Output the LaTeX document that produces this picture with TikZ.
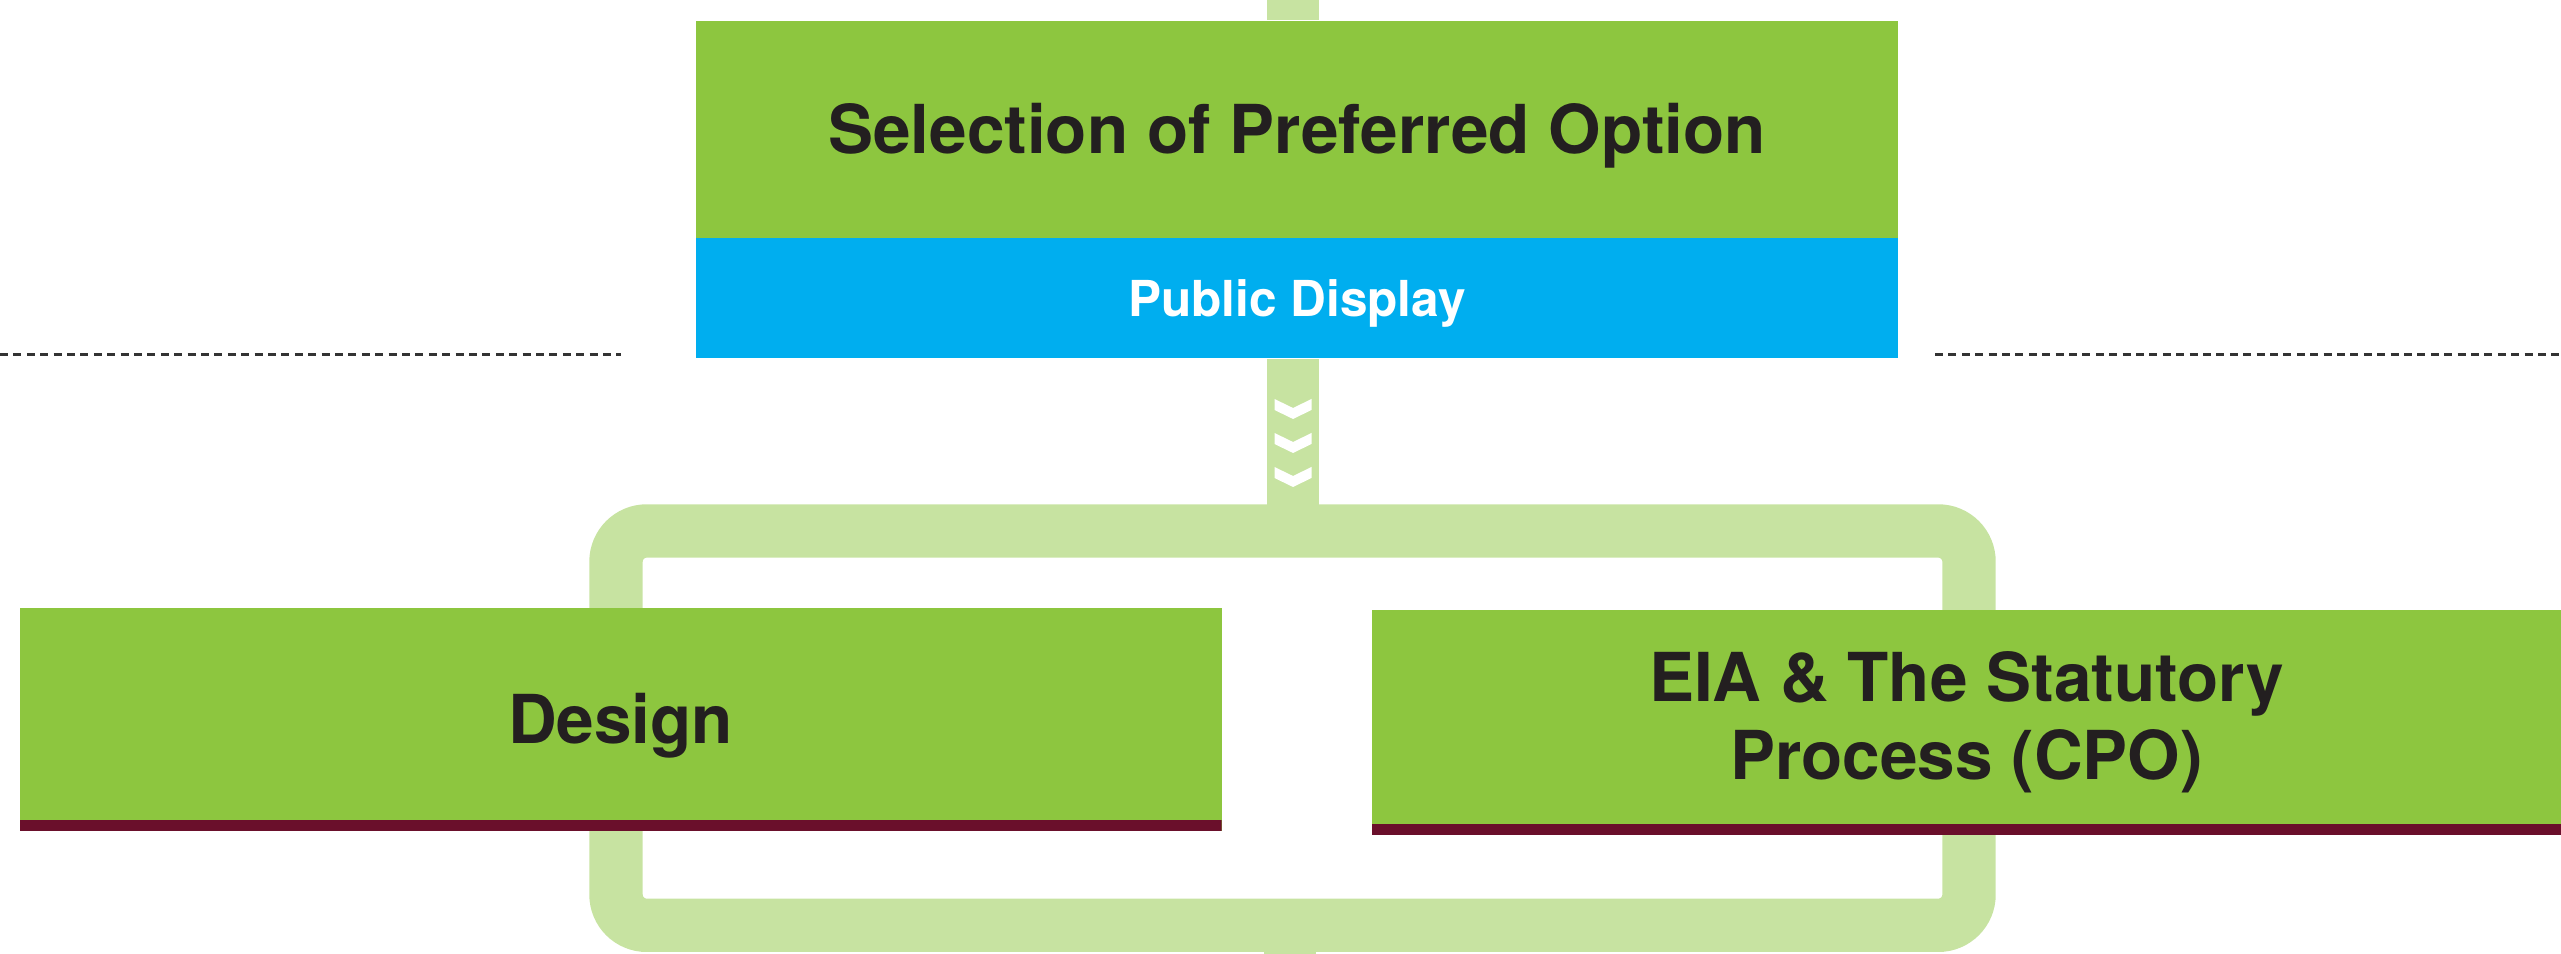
\documentclass[tikz,border=0pt]{standalone}
\usepackage{fontspec}
\setmainfont{TeX Gyre Heros}
\usepackage{tikz}
\usetikzlibrary{calc}
\definecolor{leaf}{HTML}{8DC63F}
\definecolor{pale}{HTML}{C7E3A1}
\definecolor{sky}{HTML}{00AEEF}
\definecolor{wine}{HTML}{6A0F2B}
\definecolor{ink}{HTML}{231F20}
\tikzset{gr/.style={inner sep=0pt, fill=leaf, text=ink, font=\fontsize{19.2}{22}\selectfont\bfseries},
        bl/.style={inner sep=0pt, fill=sky, text=white, font=\fontsize{14.1}{17}\selectfont\bfseries, text height=10.1pt, text depth=0pt},
        wb/.style={path picture={\fill[wine] (path picture bounding box.south west) rectangle ([yshift=0.11cm]path picture bounding box.south east);}},
        conn/.style={draw=pale, line width=0.52cm},
        fr/.style={draw=pale, line width=0.534cm, rounded corners=0.307cm},
        dl/.style={draw=black!80, line width=0.03cm, dash pattern=on 0.08cm off 0.054cm}}

\begin{document}
\begin{tikzpicture}
    \useasboundingbox (0,0) rectangle (25.61,-9.54);

    % frame behind the two work streams
    \draw[fr] (6.16,-5.31) rectangle (19.69,-9.253);

    \coordinate (top) at (12.93,0);
    \coordinate (ftop) at (12.93,-5.31);
    \coordinate (fbot) at (12.90,-9.253);
    \coordinate (bot) at (12.90,-9.54);

    \node (sel) at (12.97,-1.2975) [gr, minimum width=12.02cm, minimum height=2.175cm, text height=13.8pt, text depth=0pt] {Selection of Preferred Option};
    \node (pub) at (12.97,-2.985) [bl, minimum width=12.02cm, minimum height=1.2cm] {Public Display};

    \draw[conn] (top) -- (top |- sel.north);
    \draw[conn] (pub.south -| top) -- (ftop);
    \draw[conn] (fbot) -- (bot);

    \foreach \y in {3.99,4.33,4.67} {
        \fill[white] (12.745,-\y) -- ++(0.185,-0.09) -- ++(0.185,0.09) -- ++(0,-0.11) -- ++(-0.185,-0.09) -- ++(-0.185,0.09) -- cycle;
    }

    \node (design) at (6.206,-7.192) [gr, wb, minimum width=12.02cm, minimum height=2.23cm, text height=13.8pt, text depth=0pt] {Design};
    \node (eia) at (19.665,-7.2235) [gr, wb, minimum width=11.89cm, minimum height=2.247cm, align=center] {EIA \& The Statutory\\Process (CPO)};

    \draw[dl] (0,-3.55) -- (6.21,-3.55);
    \draw[dl] (19.35,-3.55) -- (25.61,-3.55);
\end{tikzpicture}
\end{document}
